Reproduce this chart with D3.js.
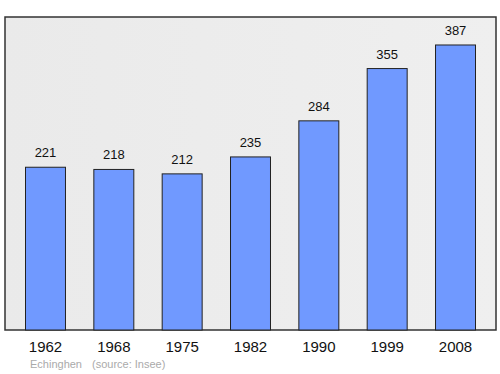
<!DOCTYPE html>
<html><head><meta charset="utf-8">
<script src="https://cdn.jsdelivr.net/npm/d3@7"></script>
<style>body{margin:0;background:#fff}svg{display:block}</style>
</head><body>
<script>
const years = ["1962","1968","1975","1982","1990","1999","2008"];
const population = [221,218,212,235,284,355,387];
const commune = "Echinghen";
const source = "(source: Insee)";

const W = 500, H = 374;
const svg = d3.select("body").append("svg").attr("width", W).attr("height", H);
const frame = {x0: 5, x1: 496, y0: 17, y1: 330};

const defs = svg.append("defs");
const g = defs.append("linearGradient").attr("id","bg").attr("x1","0").attr("y1","0").attr("x2","1").attr("y2","0");
g.append("stop").attr("offset","0").attr("stop-color","#eaeaea");
g.append("stop").attr("offset","1").attr("stop-color","#efefef");

svg.append("rect").attr("x", frame.x0).attr("y", frame.y0)
  .attr("width", frame.x1 - frame.x0).attr("height", frame.y1 - frame.y0)
  .attr("fill", "url(#bg)").attr("stroke", "#333").attr("stroke-width", 1.5);

const x = d3.scaleBand().domain(years).range([frame.x0, frame.x1]).paddingInner(0.415).paddingOuter(0.3);
const y = d3.scaleLinear().domain([0, 425]).range([frame.y1, frame.y0]);

const data = years.map((yr, i) => ({yr, v: population[i]}));

svg.selectAll("rect.bar").data(data).enter().append("rect").attr("class","bar")
  .attr("x", d => x(d.yr)).attr("y", d => y(d.v))
  .attr("width", x.bandwidth()).attr("height", d => y(0) - y(d.v))
  .attr("fill", "#7099ff").attr("stroke", "#222").attr("stroke-width", 1);

svg.selectAll("text.val").data(data).enter().append("text").attr("class","val")
  .attr("x", d => x(d.yr) + x.bandwidth()/2).attr("y", d => y(d.v) - 10)
  .attr("text-anchor","middle").attr("font-family","Liberation Sans, Arial, sans-serif")
  .attr("font-size", 13).attr("fill","#111").text(d => d.v);

const xAxis = d3.axisBottom(x).tickSize(0).tickPadding(11);
const ax = svg.append("g").attr("transform", `translate(0,${frame.y1})`).call(xAxis);
ax.select(".domain").remove();
ax.selectAll("text").attr("font-family","Liberation Sans, Arial, sans-serif").attr("font-size", 15).attr("fill","#111");

svg.append("text").attr("x", 30).attr("y", 368).attr("font-family","Liberation Sans, Arial, sans-serif")
  .attr("font-size", 11).attr("fill","#aaa").text(commune);
svg.append("text").attr("x", 92).attr("y", 368).attr("font-family","Liberation Sans, Arial, sans-serif")
  .attr("font-size", 11).attr("fill","#aaa").text(source);
</script>
</body></html>
